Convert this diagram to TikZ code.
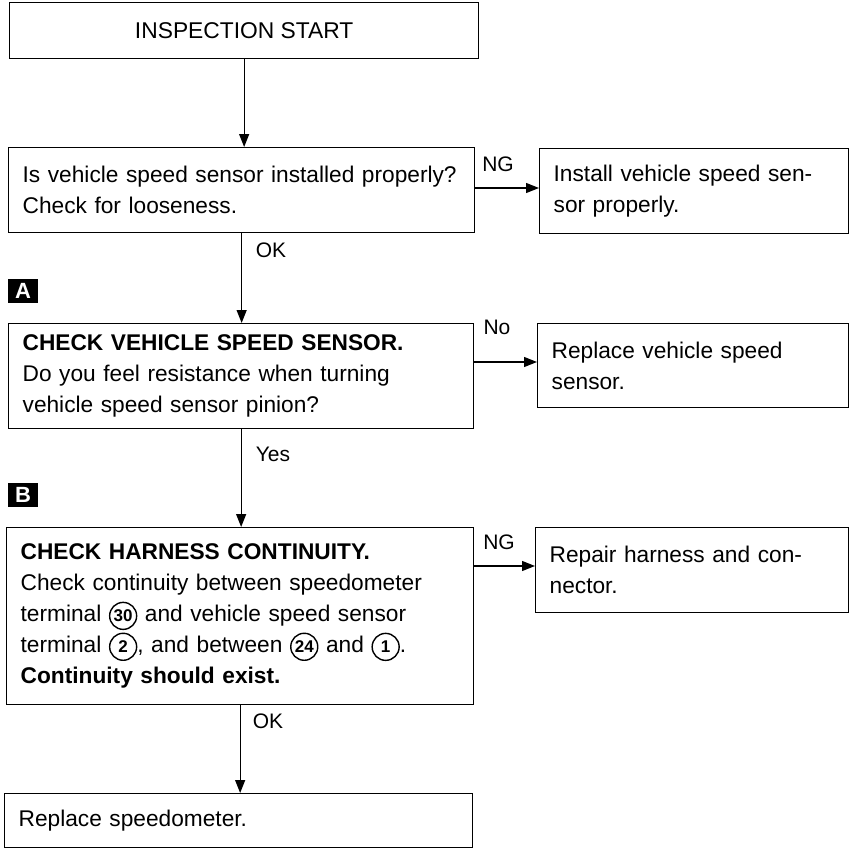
\documentclass[tikz,border=0pt]{standalone}
\usepackage{fontspec}
\setmainfont{Liberation Sans}
\usepackage{tikz}
\usetikzlibrary{arrows.meta,positioning}
\newcommand{\cnum}[1]{\tikz[baseline=(cn.base)]\node[circle, draw, line width=1.4pt, inner sep=0pt, minimum size=27pt, font=\bfseries\fontsize{17}{17}\selectfont] (cn) {#1};}
\tikzset{
  flowline/.style={black, -{Triangle[length=13pt, width=10pt]}, line width=1.3pt},
  stepbox/.style={draw=black, line width=1.3pt, anchor=north west, align=left, inner xsep=14pt, inner ysep=0pt, font=\fontsize{22.7}{31}\selectfont},
  startbox/.style={draw=black, line width=1.3pt, anchor=north west, align=center, inner sep=0pt, font=\fontsize{22.8}{31}\selectfont},
  labelnode/.style={inner sep=1pt, font=\fontsize{21}{21}\selectfont},
  marknode/.style={fill=black, text=white, inner sep=0pt, minimum width=30pt, minimum height=24pt, font=\bfseries\fontsize{22}{22}\selectfont}
}
\begin{document}
\begin{tikzpicture}[x=1pt, y=-1pt]
  \useasboundingbox (0,0) rectangle (850,856);
  % left column
  \node[startbox, minimum width=469pt, minimum height=56pt] (start) at (9,2) {INSPECTION START};
  \node[stepbox, text width=438pt, minimum height=85pt] (install) at (8,147)
    {Is vehicle speed sensor installed properly?\\Check for looseness.};
  \node[stepbox, text width=437pt, minimum height=105pt] (sensor) at (8,323)
    {\textbf{CHECK VEHICLE SPEED SENSOR.}\\Do you feel resistance when turning\\vehicle speed sensor pinion?};
  \node[stepbox, text width=439pt, minimum height=177pt] (harness) at (6,527)
    {\textbf{CHECK HARNESS CONTINUITY.}\\Check continuity between speedometer\\terminal \cnum{30} and vehicle speed sensor\\terminal \cnum{2}, and between \cnum{24} and \cnum{1}.\\\textbf{Continuity should exist.}};
  \node[stepbox, text width=440pt, minimum height=54pt] (speedo) at (4,793) {Replace speedometer.};
  % right column
  \node[stepbox, text width=281pt, minimum height=85pt] (fixinst) at (539,148)
    {Install vehicle speed sen-\\sor properly.};
  \node[stepbox, text width=283pt, minimum height=84pt] (repsensor) at (537,323)
    {Replace vehicle speed\\sensor.};
  \node[stepbox, text width=285pt, minimum height=85pt] (repharn) at (535,527)
    {Repair harness and con-\\nector.};
  % markers
  \node[marknode] (markA) at (23,291) {A};
  \node[marknode] (markB) at (23,495) {B};
  % down arrows
  \draw[flowline] (start.south) -- (start.south |- install.north);
  \draw[flowline] (install.south) -- (install.south |- sensor.north);
  \draw[flowline] (sensor.south) -- (sensor.south |- harness.north);
  \draw[flowline] (harness.south) -- (harness.south |- speedo.north);
  % side arrows
  \coordinate (ngA) at (474,188);
  \coordinate (noB) at (473,362);
  \coordinate (ngC) at (473,566);
  \draw[flowline] (ngA) -- (ngA -| fixinst.west);
  \draw[flowline] (noB) -- (noB -| repsensor.west);
  \draw[flowline] (ngC) -- (ngC -| repharn.west);
  % branch labels
  \node[labelnode] (lblng1) at (498,164) {NG};
  \node[labelnode] (lblno) at (497,327) {No};
  \node[labelnode] (lblng2) at (499,542) {NG};
  \node[labelnode] (lblok1) at (271,250) {OK};
  \node[labelnode] (lblyes) at (273,454) {Yes};
  \node[labelnode] (lblok2) at (268,721) {OK};
\end{tikzpicture}
\end{document}
